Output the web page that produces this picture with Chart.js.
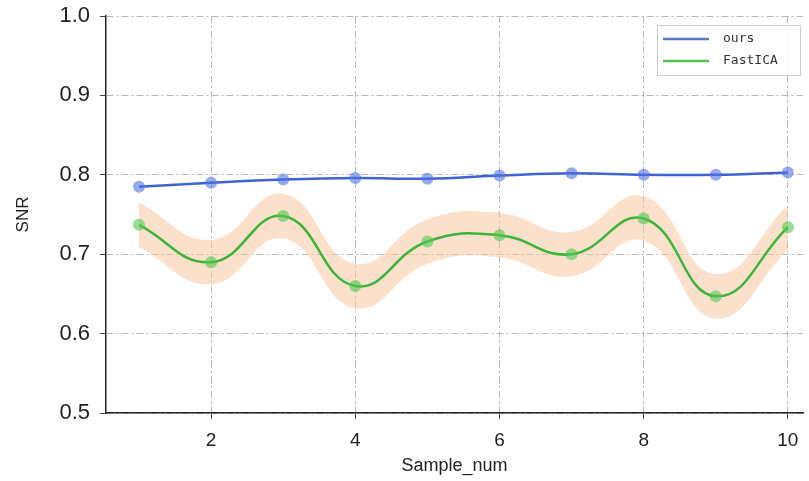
<!DOCTYPE html>
<html>
<head>
<meta charset="utf-8">
<script src="https://cdn.jsdelivr.net/npm/chart.js@4.4.1/dist/chart.umd.min.js"></script>
<style>
  html, body { margin: 0; padding: 0; background: #fff; }
  #wrap { width: 809px; height: 481px; }
</style>
</head>
<body>
<div id="wrap"><canvas id="snrChart" width="809" height="481"></canvas></div>
<script>
// data
const samples = [1, 2, 3, 4, 5, 6, 7, 8, 9, 10];
const oursSNR = [0.785, 0.790, 0.794, 0.796, 0.795, 0.799, 0.802, 0.800, 0.800, 0.803];
const fastIcaSNR = [0.737, 0.690, 0.748, 0.660, 0.716, 0.724, 0.700, 0.745, 0.647, 0.734];
const fastIcaErr = [0.028, 0.028, 0.028, 0.028, 0.028, 0.028, 0.028, 0.028, 0.028, 0.028];
const xTicks = [2, 4, 6, 8, 10];
const yTicks = [0.5, 0.6, 0.7, 0.8, 0.9, 1.0];

const toPts = (ys) => ys.map((y, i) => ({ x: samples[i], y: y }));
const upper = fastIcaSNR.map((v, i) => v + fastIcaErr[i]);
const lower = fastIcaSNR.map((v, i) => v - fastIcaErr[i]);

const blue = '#3f63d6';
const green = '#3cb43c';

// legend box drawn inside the plot, top right
const boxLegend = {
  id: 'boxLegend',
  afterDraw(chart) {
    const ctx = chart.ctx;
    const items = [
      { label: 'ours', color: '#5577c8' },
      { label: 'FastICA', color: '#55c055' },
    ];
    const x = 657, y = 25, w = 143, h = 50;
    ctx.save();
    ctx.fillStyle = 'rgba(255,255,255,0.85)';
    ctx.strokeStyle = '#cccccc';
    ctx.lineWidth = 1;
    ctx.fillRect(x, y, w, h);
    ctx.strokeRect(x + 0.5, y + 0.5, w, h);
    ctx.font = '13px "DejaVu Sans Mono"';
    ctx.textBaseline = 'middle';
    items.forEach((it, i) => {
      const ly = y + 14 + i * 22;
      ctx.strokeStyle = it.color;
      ctx.lineWidth = 2.5;
      ctx.beginPath();
      ctx.moveTo(x + 6, ly);
      ctx.lineTo(x + 52, ly);
      ctx.stroke();
      ctx.fillStyle = '#333';
      ctx.fillText(it.label, x + 66, ly);
    });
    ctx.restore();
  }
};

const gridStyle = { color: '#b8b8b8', lineWidth: 1, tickLength: 6, tickColor: '#444' };

new Chart(document.getElementById('snrChart').getContext('2d'), {
  type: 'line',
  data: {
    datasets: [
      {
        label: 'ours',
        data: toPts(oursSNR),
        borderColor: blue,
        backgroundColor: 'rgba(65,105,225,0.6)',
        pointBackgroundColor: 'rgba(80,115,225,0.6)',
        pointBorderWidth: 0,
        pointRadius: 6,
        borderWidth: 2.5,
        tension: 0.4,
        fill: false,
        order: 1,
      },
      {
        label: 'FastICA',
        data: toPts(fastIcaSNR),
        borderColor: green,
        backgroundColor: 'rgba(80,200,80,0.6)',
        pointBackgroundColor: 'rgba(80,200,80,0.6)',
        pointBorderWidth: 0,
        pointRadius: 6,
        borderWidth: 2.5,
        tension: 0.45,
        fill: false,
        order: 2,
      },
      {
        label: 'band_upper',
        data: toPts(upper),
        borderWidth: 0,
        pointRadius: 0,
        tension: 0.45,
        fill: false,
        order: 5,
      },
      {
        label: 'band_lower',
        data: toPts(lower),
        borderWidth: 0,
        pointRadius: 0,
        tension: 0.45,
        backgroundColor: 'rgba(248,198,160,0.55)',
        fill: '-1',
        order: 5,
      },
    ],
  },
  options: {
    responsive: false,
    animation: false,
    layout: { padding: 0 },
    plugins: {
      legend: { display: false },
      tooltip: { enabled: false },
    },
    scales: {
      x: {
        type: 'linear',
        min: 0.542,
        max: 10.21,
        afterBuildTicks: (scale) => { scale.ticks = xTicks.map(v => ({ value: v })); },
        afterFit: (scale) => { scale.height = 68; },
        grid: gridStyle,
        border: { display: true, color: '#222', width: 1.5, dash: [7, 3, 2, 3] },
        ticks: { color: '#222', font: { family: 'Liberation Sans', size: 19 }, padding: 10 },
        title: {
          display: true,
          text: 'Sample_num',
          color: '#222',
          font: { family: 'Liberation Sans', size: 18 },
          padding: { top: 2 },
        },
      },
      y: {
        min: 0.5,
        max: 1.0,
        afterBuildTicks: (scale) => { scale.ticks = yTicks.map(v => ({ value: v })); },
        afterFit: (scale) => {
          scale.width = 106;
          scale.paddingTop = 16;
          scale.paddingBottom = 0;
        },
        grid: gridStyle,
        border: { display: true, color: '#222', width: 1.5, dash: [7, 3, 2, 3] },
        ticks: {
          color: '#222',
          font: { family: 'Liberation Sans', size: 22 },
          padding: 10,
          callback: (v) => v.toFixed(1),
        },
        title: {
          display: true,
          text: 'SNR',
          color: '#222',
          font: { family: 'Liberation Sans', size: 17 },
          padding: { top: 13, bottom: 0 },
        },
      },
    },
  },
  plugins: [boxLegend],
});
</script>
</body>
</html>
